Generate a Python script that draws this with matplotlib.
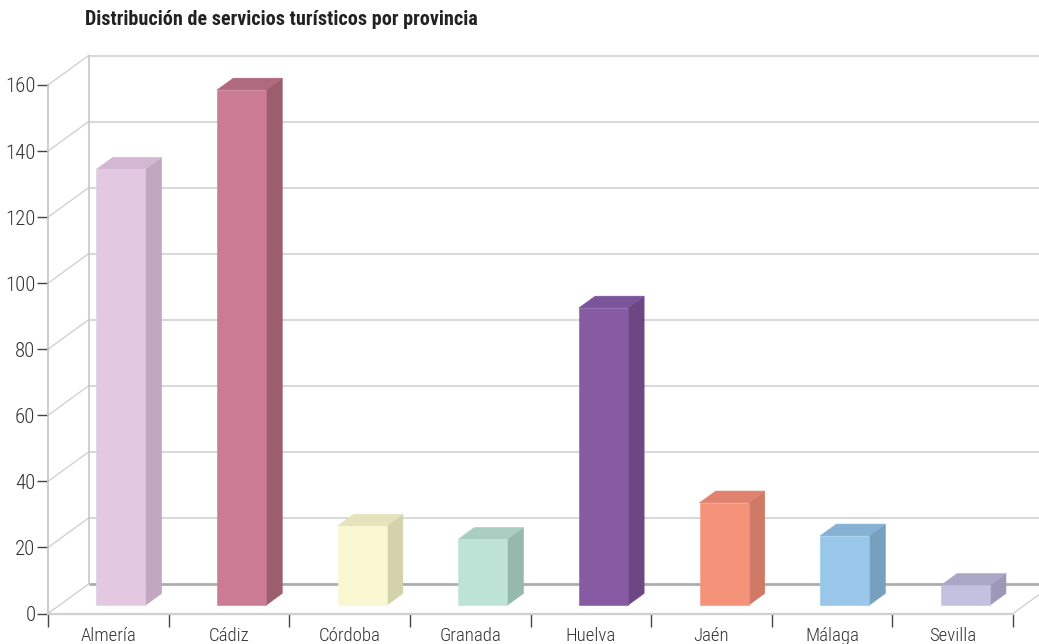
import matplotlib
matplotlib.use("Agg")
import matplotlib.pyplot as plt
from matplotlib.patches import Polygon

# ---- data -------------------------------------------------------------
provincias = ["Almería", "Cádiz", "Córdoba", "Granada", "Huelva", "Jaén", "Málaga", "Sevilla"]
servicios = [132, 156, 24, 20, 90, 31, 21, 6]
y_ticks = [0, 20, 40, 60, 80, 100, 120, 140, 160]
titulo = "Distribución de servicios turísticos por provincia"

front_colors = ["#e2c9e1", "#cb7b93", "#f9f7cf", "#bce3d6", "#865ba4", "#f4937a", "#98c7ea", "#c2c2e0"]
side_colors = ["#c1a8c0", "#9c5d6f", "#d3d2ad", "#97b9ad", "#6c4784", "#cf7a66", "#779fbe", "#9d98b8"]
top_colors = ["#d4b8d3", "#b06a80", "#e5e2bc", "#aacfc2", "#7a549a", "#e0826e", "#86b0d4", "#aaa6c6"]

FONT = ["Roboto Condensed", "Archivo Narrow", "IBM Plex Sans Condensed", "DejaVu Sans"]
plt.rcParams["font.family"] = FONT

# ---- figure & axes ----------------------------------------------------
W, H = 1039, 644
fig = plt.figure(figsize=(W / 100, H / 100), dpi=100)
ax = fig.add_axes([48 / W, (H - 613.5) / H, 965 / W, 528.5 / H])
n = len(provincias)
ymax = y_ticks[-1]
ax.set_xlim(0, n)
ax.set_ylim(0, ymax)
ax.patch.set_alpha(0)

# oblique depth of the box (data units)
DX = 40.6 / 120.6
DY = 29.5 * ymax / 528.5

grid_c = "#d9d9d9"
diag_c = "#cdcdcd"

# back wall gridlines and left wall diagonals
for v in y_ticks:
    lw, col = (2.0, "#adadad") if v == 0 else (1.5, grid_c)
    ax.plot([DX, n + DX], [v + DY, v + DY], color=col, lw=lw, clip_on=False, zorder=1,
            solid_capstyle="butt")
    ax.plot([0, DX], [v, v + DY], color=diag_c, lw=0.9, clip_on=False, zorder=1)
ax.plot([DX, DX], [DY, ymax + DY], color="#c8c8c8", lw=1.2, clip_on=False, zorder=1)
# right floor edge
ax.plot([n, n + DX], [0, DY], color=diag_c, lw=0.9, clip_on=False, zorder=1)

# ---- 3D bars ------------------------------------------------------------
bw = 0.406          # bar width (category units)
d0, dd = 0.28, 0.40  # front depth and bar depth (fraction of box depth)
for i, v in enumerate(servicios):
    x0 = i + 0.5 - bw / 2 + d0 * DX + 0.01
    x1 = x0 + bw
    y0 = d0 * DY
    y1 = y0 + v
    ox, oy = dd * DX, dd * DY
    faces = [
        ([(x1, y0), (x1 + ox, y0 + oy), (x1 + ox, y1 + oy), (x1, y1)], side_colors[i]),
        ([(x0, y1), (x1, y1), (x1 + ox, y1 + oy), (x0 + ox, y1 + oy)], top_colors[i]),
        ([(x0, y0), (x1, y0), (x1, y1), (x0, y1)], front_colors[i]),
    ]
    for pts, col in faces:
        ax.add_patch(Polygon(pts, closed=True, facecolor=col, edgecolor=col, lw=0.4,
                             zorder=3, clip_on=False))

# ---- axes: front y axis and floor edge ---------------------------------
for s in ("top", "right"):
    ax.spines[s].set_visible(False)
ax.spines["left"].set_color("#c4c4c4")
ax.spines["left"].set_linewidth(1.2)
ax.spines["bottom"].set_color("#d0d0d0")
ax.spines["bottom"].set_linewidth(1.6)
ax.spines["left"].set_zorder(4)
ax.spines["bottom"].set_zorder(4)

ax.set_yticks(y_ticks)
ax.set_yticklabels([str(t) for t in y_ticks])
ax.tick_params(axis="y", direction="out", length=8, width=1.0, color="#444444",
               pad=1, labelsize=15, labelcolor="#333333")
for t in ax.get_yticklabels():
    t.set_fontweight("light")

ax.set_xticks(range(n + 1))
ax.set_xticklabels([""] * (n + 1))
ax.set_xticks([i + 0.5 for i in range(n)], minor=True)
ax.set_xticklabels(provincias, minor=True)
ax.tick_params(axis="x", which="major", direction="out", length=9, width=1.0, color="#444444")
ax.tick_params(axis="x", which="minor", length=0, pad=10, labelsize=13.5, labelcolor="#333333")
for t in ax.get_xticklabels(minor=True):
    t.set_fontweight("light")

fig.text(85 / W, 1 - 19.5 / H, titulo, fontsize=14.5, fontweight="semibold", color="#222222",
         ha="left", va="center")

fig.savefig("out.png", dpi=100)
